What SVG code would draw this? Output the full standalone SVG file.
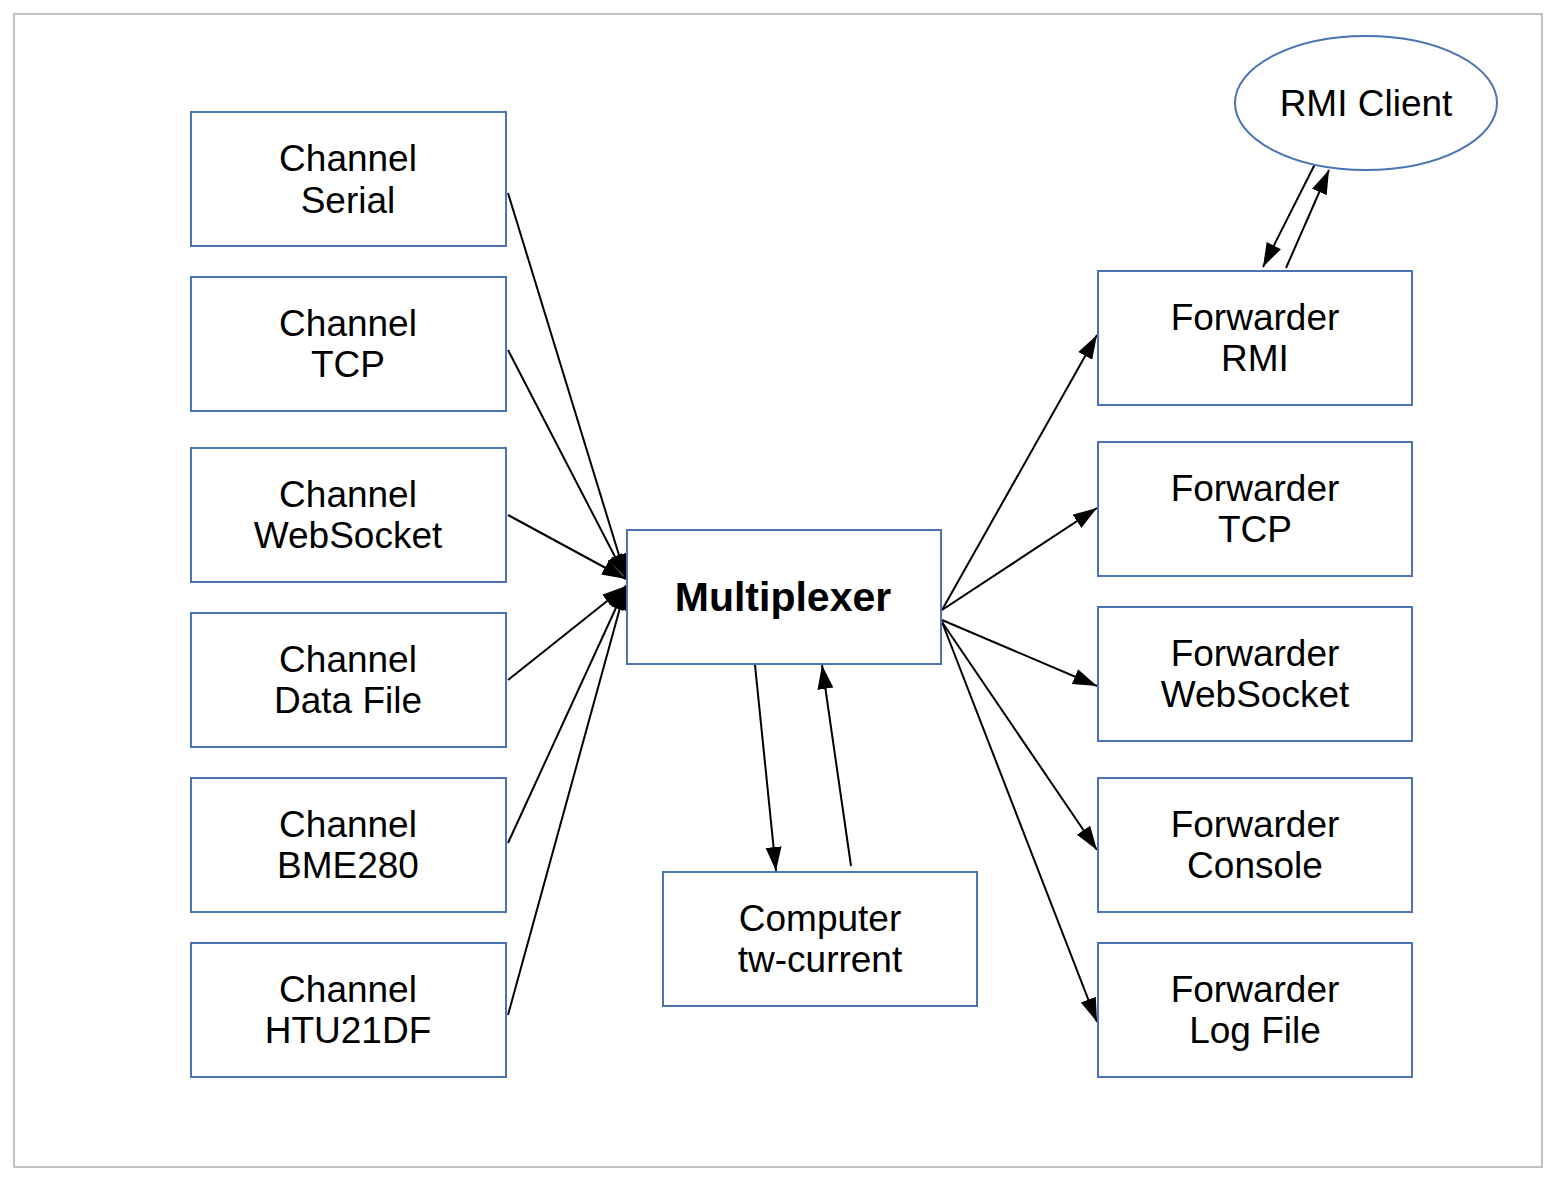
<svg xmlns="http://www.w3.org/2000/svg" width="1556" height="1182" viewBox="0 0 1556 1182">
<style>
.box{fill:#fff;stroke:#4a74b4;stroke-width:2}
.t{font-family:"Liberation Sans",Arial,sans-serif;font-size:37px;fill:#000;text-anchor:middle}
.b{font-weight:bold;font-size:41px}
.e{stroke:#000;stroke-width:2;fill:none;marker-end:url(#ah)}
</style>
<defs>
<marker id="ah" markerUnits="userSpaceOnUse" markerWidth="26" markerHeight="18" refX="24" refY="8" orient="auto">
<path d="M0,0 L24,8 L0,16 z" fill="#000"/>
</marker>
</defs>
<rect x="0" y="0" width="1556" height="1182" fill="#fff"/>
<rect x="14" y="14" width="1528" height="1153" fill="none" stroke="#c0c0c0" stroke-width="2"/>
<g id="edges">
<line class="e" x1="508" y1="193" x2="626" y2="578"/>
<line class="e" x1="508" y1="350" x2="626" y2="578"/>
<line class="e" x1="508" y1="515" x2="626" y2="579"/>
<line class="e" x1="508" y1="680" x2="626" y2="586"/>
<line class="e" x1="508" y1="843" x2="626" y2="586"/>
<line class="e" x1="508" y1="1015" x2="626" y2="586"/>
<line class="e" x1="755" y1="665" x2="776" y2="871"/>
<line class="e" x1="851" y1="866" x2="822" y2="665"/>
<line class="e" x1="942" y1="610" x2="1097" y2="335"/>
<line class="e" x1="942" y1="610" x2="1097" y2="508"/>
<line class="e" x1="942" y1="620" x2="1097" y2="686"/>
<line class="e" x1="942" y1="622" x2="1097" y2="850"/>
<line class="e" x1="942" y1="622" x2="1097" y2="1022"/>
<line class="e" x1="1286" y1="268" x2="1329" y2="170"/>
<line class="e" x1="1315" y1="164" x2="1263" y2="267"/>
</g>
<g id="rmi-client"><ellipse class="box" cx="1366" cy="103" rx="131" ry="67"/><text class="t" x="1366" y="116">RMI Client</text></g>
<g id="ch-serial"><rect class="box" x="191" y="112" width="315" height="134"/><text class="t" x="348" y="171">Channel</text><text class="t" x="348" y="213">Serial</text></g>
<g id="ch-tcp"><rect class="box" x="191" y="277" width="315" height="134"/><text class="t" x="348" y="336">Channel</text><text class="t" x="348" y="377">TCP</text></g>
<g id="ch-ws"><rect class="box" x="191" y="448" width="315" height="134"/><text class="t" x="348" y="507">Channel</text><text class="t" x="348" y="548">WebSocket</text></g>
<g id="ch-df"><rect class="box" x="191" y="613" width="315" height="134"/><text class="t" x="348" y="672">Channel</text><text class="t" x="348" y="713">Data File</text></g>
<g id="ch-bme"><rect class="box" x="191" y="778" width="315" height="134"/><text class="t" x="348" y="837">Channel</text><text class="t" x="348" y="878">BME280</text></g>
<g id="ch-htu"><rect class="box" x="191" y="943" width="315" height="134"/><text class="t" x="348" y="1002">Channel</text><text class="t" x="348" y="1043">HTU21DF</text></g>
<g id="mux"><rect class="box" x="627" y="530" width="314" height="134"/><text class="t b" x="783" y="611">Multiplexer</text></g>
<g id="computer"><rect class="box" x="663" y="872" width="314" height="134"/><text class="t" x="820" y="931">Computer</text><text class="t" x="820" y="972">tw-current</text></g>
<g id="fw-rmi"><rect class="box" x="1098" y="271" width="314" height="134"/><text class="t" x="1255" y="330">Forwarder</text><text class="t" x="1255" y="371">RMI</text></g>
<g id="fw-tcp"><rect class="box" x="1098" y="442" width="314" height="134"/><text class="t" x="1255" y="501">Forwarder</text><text class="t" x="1255" y="542">TCP</text></g>
<g id="fw-ws"><rect class="box" x="1098" y="607" width="314" height="134"/><text class="t" x="1255" y="666">Forwarder</text><text class="t" x="1255" y="707">WebSocket</text></g>
<g id="fw-console"><rect class="box" x="1098" y="778" width="314" height="134"/><text class="t" x="1255" y="837">Forwarder</text><text class="t" x="1255" y="878">Console</text></g>
<g id="fw-log"><rect class="box" x="1098" y="943" width="314" height="134"/><text class="t" x="1255" y="1002">Forwarder</text><text class="t" x="1255" y="1043">Log File</text></g>
</svg>
